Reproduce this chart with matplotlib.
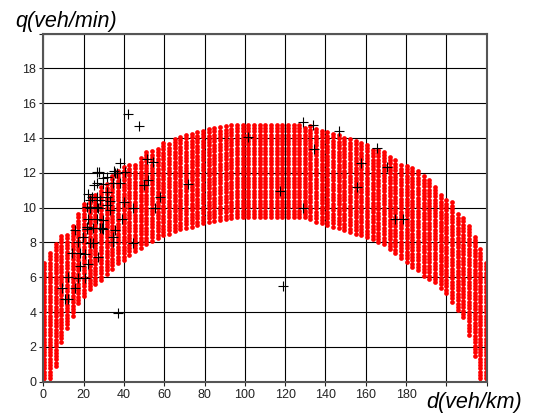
import numpy as np
import matplotlib
matplotlib.use("Agg")
from matplotlib import pyplot as plt

plt.rcParams['font.family'] = ['Liberation Sans', 'DejaVu Sans']

# red region: one column of dots per density value, from q_bot to q_top
d_first, d_last, n_cols = 0.6, 219.6, 79
q_step = 0.19
q_top = [7.0, 7.5, 8.0, 8.5, 8.6, 9.1, 9.7, 10.3, 10.7, 10.9,
         11.2, 11.5, 11.9, 12.3, 12.4, 12.5, 12.6, 13.0, 13.3, 13.3,
         13.5, 13.8, 13.8, 14.0, 14.2, 14.2, 14.4, 14.5, 14.5, 14.6,
         14.75, 14.8, 14.8, 14.8, 14.8, 14.8, 14.8, 14.8, 14.8, 14.8,
         14.8, 14.8, 14.8, 14.8, 14.8, 14.8, 14.75, 14.7, 14.6, 14.55,
         14.5, 14.4, 14.3, 14.2, 14.1, 14.0, 13.8, 13.7, 13.5, 13.4,
         13.3, 13.1, 12.8, 12.6, 12.5, 12.3, 12.1, 11.9, 11.6, 11.3,
         10.9, 10.6, 10.4, 9.7, 9.4, 9.0, 8.5, 7.6, 7.0]
q_bot = [0.0, 0.0, 0.9, 2.3, 3.1, 3.8, 4.5, 4.9, 5.3, 5.6,
         5.85, 6.2, 6.5, 6.8, 7.0, 7.3, 7.5, 7.7, 7.9, 8.1,
         8.25, 8.4, 8.5, 8.65, 8.75, 8.85, 8.9, 9.0, 9.1, 9.2,
         9.25, 9.3, 9.35, 9.4, 9.45, 9.45, 9.45, 9.45, 9.45, 9.45,
         9.45, 9.45, 9.45, 9.45, 9.45, 9.45, 9.45, 9.35, 9.2, 9.1,
         9.0, 8.9, 8.85, 8.7, 8.6, 8.5, 8.4, 8.3, 8.2, 8.0,
         7.9, 7.6, 7.4, 7.1, 6.9, 6.6, 6.4, 6.1, 5.9, 5.7,
         5.4, 5.1, 4.6, 4.1, 3.7, 2.7, 1.5, 0.0, 0.0]

# measured points (black crosses)
meas_d = [42.0, 47.5, 101.4, 128.7, 134.0, 146.9, 134.3, 165.5, 157.5, 170.7,
          155.5, 117.5, 129.0, 174.5, 178.7, 118.8, 72.0, 57.9, 51.3, 54.6,
          50.0, 52.1, 40.5, 38.1, 36.4, 40.0, 44.7, 55.4, 26.5, 27.6,
          26.5, 29.8, 34.7, 38.0, 31.5, 35.6, 22.3, 26.5, 31.5, 23.2,
          28.1, 33.1, 21.5, 26.5, 31.5, 22.3, 26.5, 29.8, 38.9, 15.7,
          21.5, 24.8, 28.1, 29.8, 35.6, 17.4, 23.2, 24.8, 34.7, 44.4,
          14.1, 18.2, 20.7, 27.3, 18.2, 12.4, 17.4, 20.7, 9.1, 15.7,
          10.8, 12.4, 37.2, 29.8, 35.1, 24.0, 33.1, 21.5, 29.0, 34.7,
          23.2, 27.3, 19.9, 22.3, 31.5, 25.0]
meas_q = [15.35, 14.7, 14.05, 14.9, 14.73, 14.4, 13.37, 13.4, 12.55, 12.36,
          11.17, 10.98, 10.0, 9.35, 9.35, 5.52, 11.36, 10.63, 12.8, 12.64,
          11.3, 11.6, 12.07, 12.55, 11.98, 10.34, 10.0, 9.96, 12.07, 12.07,
          11.4, 11.34, 11.4, 11.4, 11.78, 12.0, 10.77, 10.63, 10.63, 10.44,
          10.44, 10.38, 10.06, 10.06, 10.15, 9.33, 9.33, 9.29, 9.33, 8.72,
          8.76, 8.81, 8.81, 8.76, 8.72, 8.05, 7.99, 7.95, 8.05, 7.99,
          7.38, 7.38, 7.32, 7.15, 6.65, 6.0, 5.94, 5.94, 5.37, 5.37,
          4.74, 4.74, 3.97, 11.7, 12.1, 10.63, 9.87, 8.9, 8.81, 8.33,
          9.96, 9.96, 8.3, 6.77, 10.9, 11.3]

x_ticks = [0, 20, 40, 60, 80, 100, 120, 140, 160, 180]
y_ticks = [0, 2, 4, 6, 8, 10, 12, 14, 16, 18]

fig = plt.figure(figsize=(5.33, 4.15), dpi=100)
ax = fig.add_axes([0.0812, 0.0802, 0.832, 0.839])

cols = np.linspace(d_first, d_last, n_cols)
dots_d, dots_q = [], []
for d, lo, hi in zip(cols, q_bot, q_top):
    qs = np.arange(lo, hi + 1e-6, q_step)
    dots_d.extend([d] * len(qs))
    dots_q.extend(qs)
ax.plot(dots_d, dots_q, 'o', color='#ff0000', markersize=3.4, markeredgewidth=0, zorder=2)
ax.plot(meas_d, meas_q, '+', color='black', markersize=7, markeredgewidth=0.8, zorder=3)

ax.set_xlim(0, 220)
ax.set_ylim(0, 20)
ax.set_xticks(list(range(0, 221, 20)))
ax.set_xticklabels([str(t) if t in x_ticks else '' for t in range(0, 221, 20)])
ax.set_yticks(list(range(0, 21, 2)))
ax.set_yticklabels([str(t) if t in y_ticks else '' for t in range(0, 21, 2)])
ax.tick_params(labelsize=9, length=3, width=0.8, direction='out', colors='#222222', pad=2)
ax.grid(True, color='black', linewidth=0.8, zorder=1)
ax.set_axisbelow(True)
for s in ax.spines.values():
    s.set_color('#555555')
    s.set_linewidth(1.5)

fig.text(15 / 533, 1 - 27 / 415, 'q(veh/min)', fontsize=15.5, style='italic', ha='left', va='baseline')
fig.text(426 / 533, 1 - 408 / 415, 'd(veh/km)', fontsize=15.5, style='italic', ha='left', va='baseline')

fig.savefig('out.png', dpi=100)
